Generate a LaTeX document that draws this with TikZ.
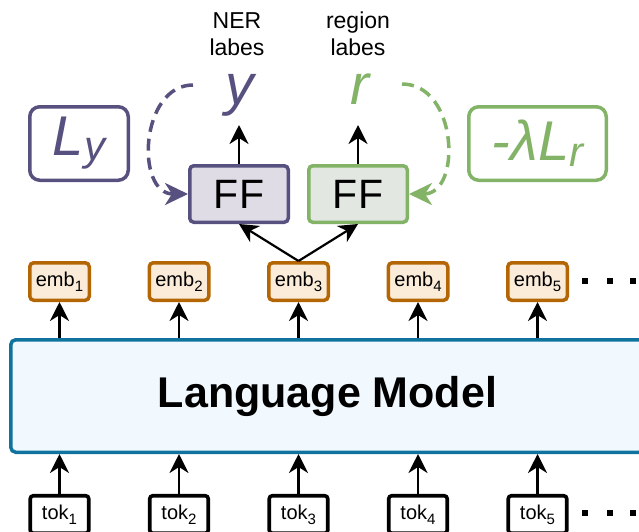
\documentclass[tikz,border=0pt]{standalone}
\usepackage{fontspec}
\setmainfont{Liberation Sans}
\usetikzlibrary{arrows.meta}
\definecolor{pur}{HTML}{56517E}
\definecolor{grn}{HTML}{82B366}
\definecolor{org}{HTML}{B46504}
\definecolor{orgfill}{HTML}{FBECDA}
\definecolor{purfill}{HTML}{DFDCE6}
\definecolor{grnfill}{HTML}{E2E8E1}
\definecolor{lmblue}{HTML}{10739E}
\definecolor{lmfill}{HTML}{F2F9FE}
\newcommand{\subnum}[1]{\raisebox{-5pt}{\fontsize{15}{15}\selectfont #1}}
\begin{document}
\begin{tikzpicture}[x=1pt,y=-1pt,
  embbox/.style={draw=org, fill=orgfill, line width=3.5pt, rounded corners=4pt,
    minimum width=59.5pt, minimum height=37.5pt, inner sep=0pt, font=\fontsize{20}{20}\selectfont},
  tokbox/.style={draw=black, fill=white, line width=3.6pt, rounded corners=3pt,
    minimum width=58.5pt, minimum height=37.5pt, inner sep=0pt, font=\fontsize{20}{20}\selectfont},
  ffbox/.style={line width=3.5pt, rounded corners=4pt, minimum width=98.5pt, minimum height=56.5pt,
    inner sep=0pt, font=\fontsize{41}{41}\selectfont},
  lossbox/.style={line width=3.5pt, rounded corners=10pt, inner sep=0pt, fill=white,
    minimum height=73.5pt},
  lmbox/.style={draw=lmblue, fill=lmfill, line width=3.5pt, rounded corners=5pt,
    minimum width=633.5pt, minimum height=112.5pt, inner sep=0pt,
    font=\fontsize{43}{43}\selectfont\bfseries},
  arr/.style={line width=2.2pt, -{Stealth[length=19pt,width=19pt,inset=6pt]}},
  darr/.style={line width=3.5pt, dash pattern=on 12pt off 7pt,
    -{Stealth[length=23pt,width=22pt,inset=7pt]}},
  lbl/.style={font=\fontsize{23}{27}\selectfont, inner sep=0pt},
  var/.style={font=\fontsize{57}{57}\selectfont\itshape, inner sep=0pt}
]
\useasboundingbox (0,0) rectangle (639,531);
\clip (0,0) rectangle (639,531);

% loss boxes
\node[lossbox, draw=pur, text=pur, minimum width=98.5pt] (Ly) at (79,143.5)
  {\fontsize{56}{56}\selectfont\itshape L\raisebox{-5pt}{\fontsize{42}{42}\selectfont y}};
\node[lossbox, draw=grn, text=grn, minimum width=137.5pt] (Lr) at (537.5,143.5)
  {\fontsize{56}{56}\selectfont\itshape -λL\raisebox{-6pt}{\fontsize{42}{42}\selectfont r}};

% label texts
\node[lbl, anchor=base] (ner) at (237,28) {\begin{tabular}[t]{@{}c@{}}NER\\labes\end{tabular}};
\node[lbl, anchor=base] (reg) at (358,28) {\begin{tabular}[t]{@{}c@{}}region\\labes\end{tabular}};

% output variables
\node[var, text=pur, anchor=base] (ylab) at (240,104) {y};
\node[var, text=grn, anchor=base] (rlab) at (360,104) {r};

% FF boxes
\node[ffbox, draw=pur, fill=purfill] (FF1) at (239,194) {FF};
\node[ffbox, draw=grn, fill=grnfill] (FF2) at (358,194) {FF};

% language model
\node[lmbox] (lm) at (327.5,396) {Language Model};

% embeddings and tokens
\foreach \i/\x in {1/59.5,2/179,3/298.5,4/418,5/537.5}{
  \node[embbox] (emb\i) at (\x,281.5) {emb\subnum{\i}};
  \node[tokbox] (tok\i) at (\x,514.5) {tok\subnum{\i}};
  \draw[arr] (emb\i.south |- lm.north) -- (emb\i.south);
  \draw[arr] (tok\i.north) -- (tok\i.north |- lm.south);
}

% ellipsis dots
\foreach \x in {585,610,633}{
  \fill (\x-2.75,278.25) rectangle ++(5.5,5.5);
  \fill (\x-2.75,510.25) rectangle ++(5.5,5.5);
}

% arrows to heads
\draw[arr] (emb3.north) -- (FF1.south);
\draw[arr] (emb3.north) -- (FF2.south);
\draw[arr, shorten >=21pt] (FF1.north) -- (FF1.north |- ylab.base);
\draw[arr, shorten >=21pt] (FF2.north) -- (FF2.north |- rlab.base);

% dashed loss arrows
\coordinate (ys) at (193,85);
\coordinate (rs) at (402,84);
\draw[darr, pur] (ys) .. controls (140,85) and (135,194) .. (FF1.west);
\draw[darr, grn] (rs) .. controls (458,84) and (462,194) .. (FF2.east);
\end{tikzpicture}
\end{document}
